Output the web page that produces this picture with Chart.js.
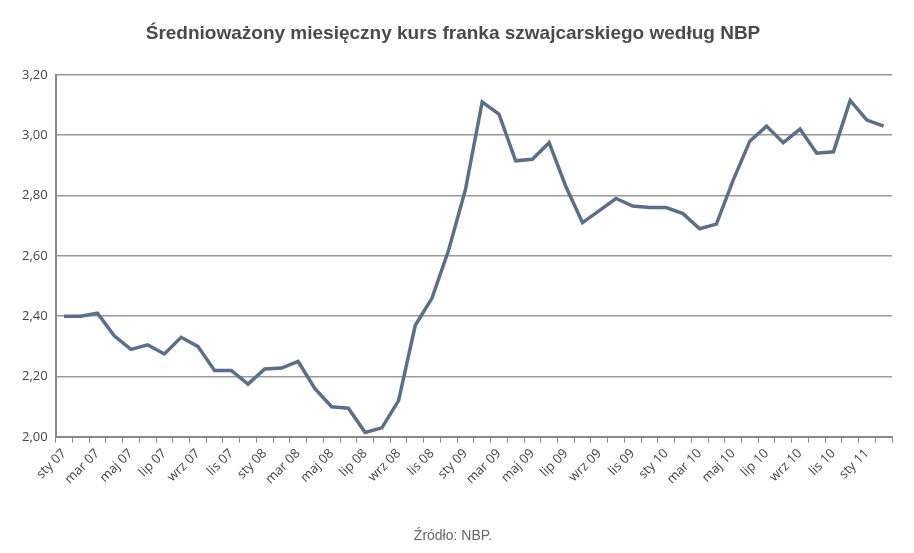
<!DOCTYPE html>
<html><head><meta charset="utf-8">
<script src="https://cdn.jsdelivr.net/npm/chart.js@4"></script>
<style>html,body{margin:0;padding:0;background:#fff}#w{width:914px;height:553px}</style>
</head><body><div id="w"><canvas id="c"></canvas></div>
<script>
const monthNames = ["sty","lut","mar","kwi","maj","cze","lip","sie","wrz","paź","lis","gru"];
const years = ["07","08","09","10","11"];
const categories = [];
for (const y of years) for (const m of monthNames) categories.push(m + " " + y);
categories.length = 50;
const rates = [2.40,2.40,2.41,2.335,2.29,2.305,2.275,2.33,2.30,2.22,2.22,2.175,2.225,2.228,2.25,2.16,2.10,2.095,2.015,2.03,2.12,2.37,2.46,2.62,2.82,3.11,3.07,2.915,2.92,2.975,2.83,2.71,2.75,2.79,2.765,2.76,2.76,2.74,2.69,2.705,2.85,2.98,3.03,2.975,3.02,2.94,2.945,3.115,3.05,3.03];
const titleText = "Średnioważony miesięczny kurs franka szwajcarskiego według NBP";
const sourceText = "Źródło: NBP.";
new Chart(document.getElementById('c'), {
  type: 'line',
  data: { labels: categories, datasets: [{ data: rates, borderColor: '#5b6e8a', borderWidth: 3.5, pointRadius: 0, tension: 0, fill: false }] },
  options: {
    responsive: true, maintainAspectRatio: false, animation: false,
    layout: { padding: { left: 14, right: 22, top: 4, bottom: 4 } },
    plugins: {
      legend: { display: false }, tooltip: { enabled: false },
      title: { display: true, text: titleText, color: '#4a4a4a', font: { family: 'Liberation Sans', size: 19, weight: 'bold' }, padding: { top: 18, bottom: 30 } },
      subtitle: { display: true, position: 'bottom', text: sourceText, color: '#666', font: { family: 'Liberation Sans', size: 14 }, padding: { top: 38, bottom: 4 } }
    },
    scales: {
      x: {
        offset: true,
        grid: { display: true, offset: true, drawOnChartArea: false, drawTicks: true, tickLength: 6, color: '#888' },
        border: { color: '#888', width: 2 },
        ticks: { autoSkip: false, maxRotation: 45, minRotation: 45, color: '#444', font: { family: 'Open Sans', size: 13 },
          callback: function(v, i) { return i % 2 === 0 ? categories[i] : ''; } }
      },
      y: {
        min: 2.0, max: 3.2,
        grid: { color: '#999', lineWidth: 1.5, drawTicks: false },
        border: { color: '#888', width: 2 },
        ticks: { stepSize: 0.2, padding: 8, color: '#444', font: { family: 'Open Sans', size: 13 },
          callback: v => v.toFixed(2).replace('.', ',') }
      }
    }
  }
});
</script></body></html>
